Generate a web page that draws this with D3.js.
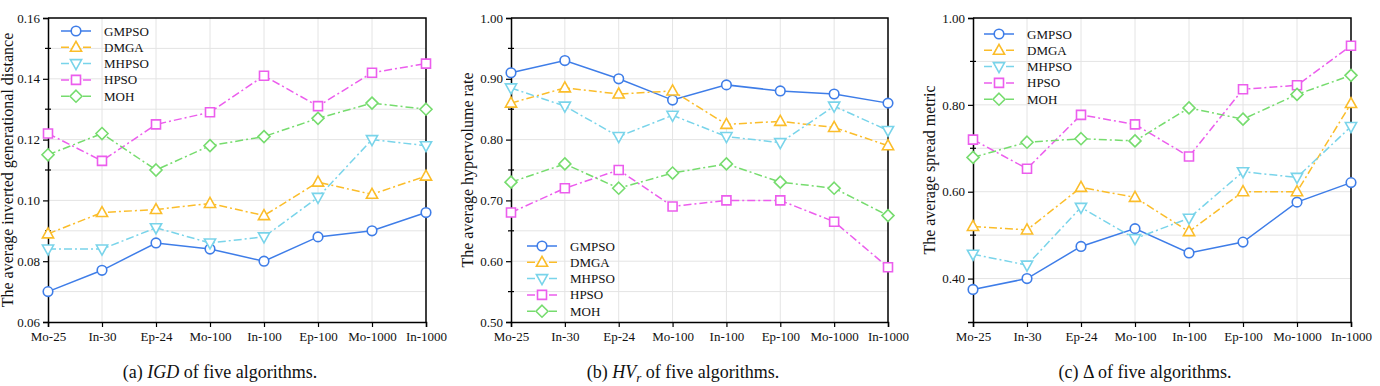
<!DOCTYPE html>
<html>
<head>
<meta charset="utf-8">
<script src="https://cdn.jsdelivr.net/npm/d3@7"></script>
<style>
  body { margin: 0; background: #fff; }
  svg { font-family: "Liberation Serif", "Times New Roman", serif; }
</style>
</head>
<body>
<div id="chart"></div>
<script>
// categories on the x axis (same for all three panels)
const problems = ["Mo-25", "In-30", "Ep-24", "Mo-100", "In-100", "Ep-100", "Mo-1000", "In-1000"];
const algorithms = ["GMPSO", "DMGA", "MHPSO", "HPSO", "MOH"];

// (a) IGD
const igdGMPSO = [0.070, 0.077, 0.086, 0.084, 0.080, 0.088, 0.090, 0.096];
const igdDMGA  = [0.089, 0.096, 0.097, 0.099, 0.095, 0.106, 0.102, 0.108];
const igdMHPSO = [0.084, 0.084, 0.091, 0.086, 0.088, 0.101, 0.120, 0.118];
const igdHPSO  = [0.122, 0.113, 0.125, 0.129, 0.141, 0.131, 0.142, 0.145];
const igdMOH   = [0.115, 0.122, 0.110, 0.118, 0.121, 0.127, 0.132, 0.130];

// (b) HVr
const hvGMPSO = [0.910, 0.930, 0.900, 0.865, 0.890, 0.880, 0.875, 0.860];
const hvDMGA  = [0.860, 0.885, 0.875, 0.880, 0.825, 0.830, 0.820, 0.790];
const hvMHPSO = [0.885, 0.855, 0.805, 0.840, 0.805, 0.795, 0.855, 0.815];
const hvHPSO  = [0.680, 0.720, 0.750, 0.690, 0.700, 0.700, 0.665, 0.590];
const hvMOH   = [0.730, 0.760, 0.720, 0.745, 0.760, 0.730, 0.720, 0.675];

// (c) spread metric
const spGMPSO = [0.375, 0.400, 0.474, 0.515, 0.459, 0.484, 0.576, 0.621];
const spDMGA  = [0.520, 0.512, 0.610, 0.587, 0.508, 0.600, 0.600, 0.803];
const spMHPSO = [0.456, 0.431, 0.564, 0.492, 0.539, 0.646, 0.633, 0.750];
const spHPSO  = [0.720, 0.653, 0.777, 0.755, 0.681, 0.836, 0.845, 0.936];
const spMOH   = [0.679, 0.714, 0.722, 0.717, 0.793, 0.767, 0.824, 0.868];

// tick labels
const igdTicks = [0.06, 0.08, 0.10, 0.12, 0.14, 0.16];
const hvTicks  = [0.50, 0.60, 0.70, 0.80, 0.90, 1.00];
const spTicks  = [0.40, 0.60, 0.80, 1.00];

const colors = ["#3e7de8", "#fbbd2a", "#79d4ea", "#ec5ded", "#76dc6e"];
const markers = ["circle", "up", "down", "square", "diamond"];
const dashes = [null, "8,3,2,3", "8,3,2,3", "8,3,2,3", "8,3,2,3"];

const width = 1380, height = 386;
const plotTop = 18, plotBottom = 322;

const svg = d3.select("#chart").append("svg")
    .attr("width", width)
    .attr("height", height);

function markerPath(kind) {
    if (kind == "circle") return d3.symbol(d3.symbolCircle, 72)();
    if (kind == "square") return "M-4.5,-4.5H4.5V4.5H-4.5Z";
    if (kind == "diamond") return "M0,-6L6,0L0,6L-6,0Z";
    if (kind == "up") return "M0,-6L5.6,4L-5.6,4Z";
    return "M0,6L5.6,-4L-5.6,-4Z";
}

function drawPanel(p) {
    let g = svg.append("g");

    let x = d3.scalePoint()
        .domain(problems)
        .range([p.left, p.right]);

    let y = d3.scaleLinear()
        .domain(p.domain)
        .range([plotBottom, plotTop]);

    // grid lines
    let grid = g.append("g");
    grid.selectAll(".hg")
        .data(p.grid)
        .enter().append("line")
        .attr("x1", p.left).attr("x2", p.right)
        .attr("y1", d => y(d)).attr("y2", d => y(d))
        .attr("stroke", "#e4e4e4").attr("stroke-width", 1);
    grid.selectAll(".vg")
        .data(problems.slice(1, -1))
        .enter().append("line")
        .attr("x1", d => x(d)).attr("x2", d => x(d))
        .attr("y1", plotTop).attr("y2", plotBottom)
        .attr("stroke", "#e4e4e4").attr("stroke-width", 1);

    // frame top / right
    g.append("path")
        .attr("d", `M${p.left},${plotTop}H${p.right}V${plotBottom}`)
        .attr("fill", "none").attr("stroke", "#000").attr("stroke-width", 1.5);

    // minor ticks crossing the left axis
    g.selectAll(".minor")
        .data(p.minor)
        .enter().append("line")
        .attr("x1", p.left - 3).attr("x2", p.left + 3)
        .attr("y1", d => y(d)).attr("y2", d => y(d))
        .attr("stroke", "#000").attr("stroke-width", 1.2);

    // axes
    let yAxis = g.append("g")
        .attr("transform", `translate(${p.left},0)`)
        .call(d3.axisLeft(y).tickValues(p.ticks).tickFormat(d3.format(".2f")).tickSize(5).tickPadding(3));
    let xAxis = g.append("g")
        .attr("transform", `translate(0,${plotBottom})`)
        .call(d3.axisBottom(x).tickSize(5).tickPadding(5));
    [xAxis, yAxis].forEach(function(a) {
        a.attr("font-family", null).attr("font-size", null);
        a.select(".domain").attr("stroke-width", 1.5);
        a.selectAll(".tick line").attr("stroke-width", 1.2);
        a.selectAll("text")
            .attr("fill", "#111")
            .style("font-size", "13px");
    });

    // y axis title
    g.append("text")
        .attr("transform", `translate(${p.titleX}, 170) rotate(-90)`)
        .style("text-anchor", "middle")
        .attr("dy", "0.35em")
        .style("font-size", "16px")
        .attr("fill", "#111")
        .text(p.title);

    // lines and markers
    p.series.forEach(function(vals, i) {
        let pts = problems.map((c, j) => ({c: c, v: vals[j]}));
        g.append("path")
            .datum(pts)
            .attr("fill", "none")
            .attr("stroke", colors[i])
            .attr("stroke-width", 1.5)
            .attr("stroke-dasharray", dashes[i])
            .attr("d", d3.line().x(d => x(d.c)).y(d => y(d.v)));
        g.selectAll(".m" + i)
            .data(pts)
            .enter().append("path")
            .attr("transform", d => `translate(${x(d.c)},${y(d.v)})`)
            .attr("d", markerPath(markers[i]))
            .attr("fill", "#fff")
            .attr("stroke", colors[i])
            .attr("stroke-width", 1.6);
    });

    // legend
    let leg = g.append("g");
    algorithms.forEach(function(name, i) {
        let ly = p.legY + i * 16.3;
        leg.append("line")
            .attr("x1", p.legX).attr("x2", p.legX + 30)
            .attr("y1", ly).attr("y2", ly)
            .attr("stroke", colors[i]).attr("stroke-width", 1.5)
            .attr("stroke-dasharray", i == 0 ? null : "8,3");
        leg.append("path")
            .attr("transform", `translate(${p.legX + 15},${ly})`)
            .attr("d", markerPath(markers[i]))
            .attr("fill", "#fff")
            .attr("stroke", colors[i]).attr("stroke-width", 1.6);
        leg.append("text")
            .attr("x", p.legX + 43).attr("y", ly)
            .attr("dy", "0.35em")
            .style("font-size", "13px")
            .attr("fill", "#111")
            .text(name);
    });

    // caption
    let cap = g.append("text")
        .attr("x", p.capX).attr("y", 372)
        .attr("dy", "0.35em")
        .style("text-anchor", "middle")
        .style("font-size", "18px")
        .attr("fill", "#111");
    cap.append("tspan").text(p.cap[0]);
    cap.append("tspan").style("font-style", "italic").text(p.cap[1]);
    if (p.cap[2]) cap.append("tspan").attr("dy", "4").style("font-style", "italic").style("font-size", "13px").text(p.cap[2]);
    cap.append("tspan").attr("dy", p.cap[2] ? "-4" : null).text(p.cap[3]);
}

drawPanel({
    left: 48, right: 426,
    domain: [0.06, 0.16],
    ticks: igdTicks,
    grid: d3.range(7, 16).map(d => d / 100),
    minor: [0.07, 0.09, 0.11, 0.13, 0.15],
    title: "The average inverted generational distance",
    titleX: 7,
    series: [igdGMPSO, igdDMGA, igdMHPSO, igdHPSO, igdMOH],
    legX: 61, legY: 31,
    capX: 220,
    cap: ["(a) ", "IGD", null, " of five algorithms."]
});

drawPanel({
    left: 511, right: 888,
    domain: [0.50, 1.00],
    ticks: hvTicks,
    grid: d3.range(11, 20).map(d => d / 20),
    minor: [0.55, 0.65, 0.75, 0.85, 0.95],
    title: "The average hypervolume rate",
    titleX: 467,
    series: [hvGMPSO, hvDMGA, hvMHPSO, hvHPSO, hvMOH],
    legX: 527, legY: 246,
    capX: 683,
    cap: ["(b) ", "HV", "r", " of five algorithms."]
});

drawPanel({
    left: 973, right: 1351,
    domain: [0.30, 1.00],
    ticks: spTicks,
    grid: d3.range(4, 10).map(d => d / 10),
    minor: [0.50, 0.70, 0.90],
    title: "The average spread metric",
    titleX: 929,
    series: [spGMPSO, spDMGA, spMHPSO, spHPSO, spMOH],
    legX: 984, legY: 34,
    capX: 1145,
    cap: ["(c) \u0394 of five algorithms.", "", null, ""]
});
</script>
</body>
</html>
